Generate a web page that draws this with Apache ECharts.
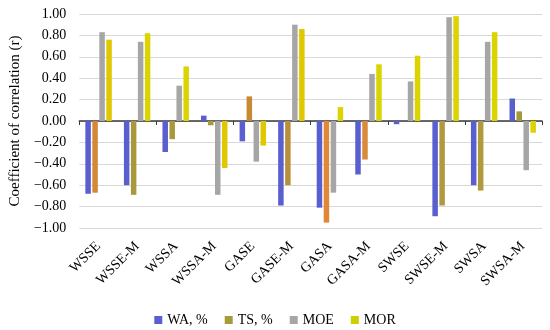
<!DOCTYPE html>
<html>
<head>
<meta charset="utf-8">
<script src="https://cdn.jsdelivr.net/npm/echarts@6/dist/echarts.min.js"></script>
<style>html,body{margin:0;padding:0;background:#fff;}#c{width:550px;height:330px;}</style>
</head>
<body>
<div id="c"></div>
<script>
var categories = ['WSSE','WSSE-M','WSSA','WSSA-M','GASE','GASE-M','GASA','GASA-M','SWSE','SWSE-M','SWSA','SWSA-M'];
var seriesNames = ['WA, %','TS, %','MOE','MOR'];
var waValues  = [-0.68,-0.60,-0.29, 0.05,-0.19,-0.79,-0.81,-0.50,-0.03,-0.89,-0.60, 0.21];
var tsValues  = [-0.67,-0.69,-0.17,-0.04, 0.23,-0.60,-0.95,-0.36, 0.00,-0.79,-0.65, 0.09];
var moeValues = [ 0.83, 0.74, 0.33,-0.69,-0.38, 0.90,-0.67, 0.44, 0.37, 0.97, 0.74,-0.46];
var morValues = [ 0.76, 0.82, 0.51,-0.44,-0.23, 0.86, 0.13, 0.53, 0.61, 0.98, 0.83,-0.11];
var yTicks = [-1.0,-0.8,-0.6,-0.4,-0.2,0,0.2,0.4,0.6,0.8,1.0];

var legendColors = ['#5a5fd0','#a89a3a','#a6a6a6','#cfd000'];
var tsBarColors = ['#d4883a','#a89a3a','#a89a3a','#a89a3a','#c88a30','#b8903a','#e08838','#d98a3a','#a89a3a','#b09a40','#b09a40','#a09a3a'];
var morBarColors = ['#e0c800','#dcd400','#dcd400','#e0c800','#e0c800','#e0c800','#dcd400','#dcd400','#dcd400','#dcd400','#dcd400','#dcd400'];

var font = '"Liberation Serif", "DejaVu Serif", serif';
var chart = echarts.init(document.getElementById('c'), null, {renderer:'canvas'});

function mk(name, vals, color, perBar){
  return {
    name: name, type: 'bar', xAxisIndex: 0,
    barWidth: 5.5, barGap: '27%',
    itemStyle: {color: color},
    data: vals.map(function(v,i){
      return perBar ? {value: v, itemStyle: {color: perBar[i]}} : v;
    })
  };
}

chart.setOption({
  animation: false,
  textStyle: {fontFamily: font},
  grid: {left: 74, right: 8, top: 14, bottom: 102},
  legend: {
    top: 308, left: 'center',
    itemWidth: 8, itemHeight: 8, itemGap: 17,
    icon: 'rect',
    textStyle: {fontFamily: font, fontSize: 14, color: '#000'},
    data: seriesNames
  },
  xAxis: [{
    type: 'category', data: categories, position: 'bottom',
    axisLine: {show: false, onZero: false},
    axisTick: {show: false},
    axisLabel: {rotate: 45, margin: 16, fontFamily: font, fontSize: 14, color: '#000', interval: 0}
  },{
    type: 'category', data: categories, position: 'top',
    axisLine: {show: true, onZero: true, lineStyle: {color: '#3a3a3a', width: 1.5}},
    axisTick: {show: true, inside: true, length: 4, lineStyle: {color: '#3a3a3a', width: 1}},
    axisLabel: {show: false}
  }],
  yAxis: {
    type: 'value', min: -1, max: 1, interval: 0.2,
    name: 'Coefficient of correlation (r)',
    nameLocation: 'middle', nameGap: 55,
    nameTextStyle: {fontFamily: font, fontSize: 15, color: '#000'},
    axisLine: {show: false}, axisTick: {show: false},
    axisLabel: {margin: 13, fontFamily: font, fontSize: 14, color: '#000',
      formatter: function(v){ return v.toFixed(2).replace('-', '\u2212'); }},
    splitLine: {lineStyle: {color: '#d9d9d9', width: 1}}
  },
  series: [
    mk(seriesNames[0], waValues, legendColors[0]),
    mk(seriesNames[1], tsValues, legendColors[1], tsBarColors),
    mk(seriesNames[2], moeValues, legendColors[2]),
    mk(seriesNames[3], morValues, legendColors[3], morBarColors)
  ]
});
</script>
</body>
</html>
